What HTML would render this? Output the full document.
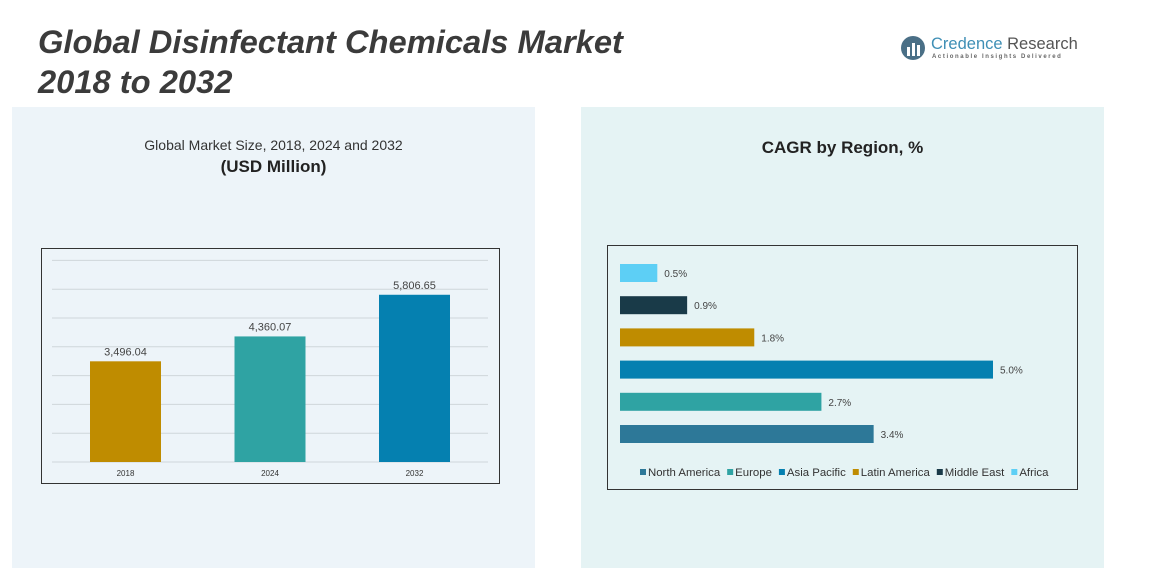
<!DOCTYPE html>
<html><head><meta charset="utf-8"><style>
body{margin:0;width:1150px;height:582px;background:#fff;position:relative;overflow:hidden;font-family:"Liberation Sans",sans-serif}
.abs{position:absolute}
</style></head><body>
<div class="abs" style="left:12px;top:107px;width:523px;height:461px;background:#edf4f9"></div>
<div class="abs" style="left:581px;top:107px;width:523px;height:461px;background:#e5f3f4"></div>
<div class="abs" style="left:38px;top:22px;font-size:32.7px;font-weight:bold;font-style:italic;color:#3b3b3b;line-height:40px;white-space:nowrap">Global Disinfectant Chemicals Market<br>2018 to 2032</div>
<div class="abs" style="left:900px;top:34px;width:200px;height:30px">
<svg width="30" height="30" style="position:absolute;left:0;top:0"><circle cx="13" cy="14" r="12" fill="#4a6f86"/><rect x="7" y="13" width="3" height="9" fill="#fff"/><rect x="12" y="9" width="3" height="13" fill="#fff"/><rect x="17" y="11" width="3" height="11" fill="#fff"/></svg>
<div class="abs" style="left:31px;top:1px;font-size:16.5px;color:#3f8fb5;white-space:nowrap">Credence <span style="color:#555">Research</span></div>
<div class="abs" style="left:32px;top:20px;font-size:6px;color:#666;letter-spacing:1.6px;white-space:nowrap;font-weight:bold">Actionable Insights Delivered</div>
</div>
<div class="abs" style="left:12px;width:523px;top:137px;text-align:center;font-size:14px;color:#333">Global Market Size, 2018, 2024 and 2032</div>
<div class="abs" style="left:12px;width:523px;top:157px;text-align:center;font-size:17px;font-weight:bold;color:#222">(USD Million)</div>
<div class="abs" style="left:581px;width:523px;top:138px;text-align:center;font-size:17px;font-weight:bold;color:#222">CAGR by Region, %</div>
<svg class="abs" style="left:0;top:0" width="1150" height="582" id="svg"></svg>
<script>
const years=["2018","2024","2032"];
const sizes=[3496.04,4360.07,5806.65];
const sizeLabels=["3,496.04","4,360.07","5,806.65"];
const barColors=["#bf8c00","#2fa3a3","#0580b0"];
const regions=["Africa","Middle East","Latin America","Asia Pacific","Europe","North America"];
const cagr=[0.5,0.9,1.8,5.0,2.7,3.4];
const regionColors=["#5dcff5","#193a48","#bf8c00","#0580b0","#2fa3a3","#2d7898"];
const legendNames=["North America","Europe","Asia Pacific","Latin America","Middle East","Africa"];
const legendColors=["#2d7898","#2fa3a3","#0580b0","#bf8c00","#193a48","#5dcff5"];
const NS="http://www.w3.org/2000/svg";
const svg=document.getElementById('svg');
function mk(t,a,p){const e=document.createElementNS(NS,t);for(const k in a)e.setAttribute(k,a[k]);(p||svg).appendChild(e);return e;}
const box1=mk('rect',{x:41.5,y:248.5,width:458,height:235,fill:'none',stroke:'#333','stroke-width':1});


const base=462,pxPer=28.8/1000;
const yv=v=>base-v*pxPer;
for(let g=0;g<=7;g++){const l=mk('line',{x1:52,x2:488,y1:yv(g*1000),y2:yv(g*1000),stroke:'#cfd6da','stroke-width':1});

}
const xc=i=>125.5+i*144.5;
years.forEach((y,i)=>{
const r=mk('rect',{x:xc(i)-35.5,y:yv(sizes[i]),width:71,height:sizes[i]*pxPer,fill:barColors[i]});


const t=mk('text',{x:xc(i),y:yv(sizes[i])-6,'text-anchor':'middle','font-size':11,fill:'#444'});t.textContent=sizeLabels[i];


const a=mk('text',{x:xc(i),y:476,'text-anchor':'middle','font-size':8,fill:'#333'});a.textContent=y;


});
const box2=mk('rect',{x:607.5,y:245.5,width:470,height:244,fill:'none',stroke:'#333','stroke-width':1});


const x0=620,pxPct=74.6;
regions.forEach((r,i)=>{
const cy=273+i*32.2;
const b=mk('rect',{x:x0,y:cy-9,width:cagr[i]*pxPct,height:18,fill:regionColors[i]});


const t=mk('text',{x:x0+cagr[i]*pxPct+7,y:cy+4,'font-size':10,fill:'#444'});t.textContent=cagr[i].toFixed(1)+'%';


});
let lx=640;
legendNames.forEach((n,i)=>{
const g=mk('g',{});


mk('rect',{x:lx,y:469,width:6,height:6,fill:legendColors[i]},g);
const t=mk('text',{x:lx+8,y:476,'font-size':11.4,fill:'#333'},g);t.textContent=n;
lx+=8+t.getComputedTextLength()+7;
});
</script>
</body></html>
